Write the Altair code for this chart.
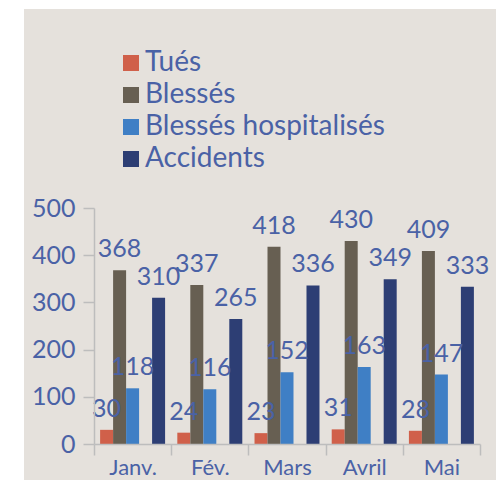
import altair as alt
import pandas as pd

months = ["Janv.", "Fév.", "Mars", "Avril", "Mai"]
series = ["Tués", "Blessés", "Blessés hospitalisés", "Accidents"]
tues = [30, 24, 23, 31, 28]
blesses = [368, 337, 418, 430, 409]
hosp = [118, 116, 152, 163, 147]
accidents = [310, 265, 336, 349, 333]
colors = ["#d0604a", "#675f52", "#3f7fc5", "#2d3e74"]

rows = []
for i, m in enumerate(months):
    for s, vals in zip(series, [tues, blesses, hosp, accidents]):
        rows.append({"mois": m, "serie": s, "valeur": vals[i]})
df = pd.DataFrame(rows)

BLUE = "#4a62a6"
FONT = "Lato"

offset_domain = ["Tués", "Blessés", "Blessés hospitalisés", "_vide", "Accidents"]

x = alt.X("mois:N", sort=months, title=None,
          scale=alt.Scale(paddingInner=0, paddingOuter=0),
          axis=alt.Axis(labelAngle=0, tickBand="extent", tickSize=11,
                        labelPadding=2, labelFontSize=22, labelColor=BLUE,
                        labelFont=FONT, domainColor="#bdbdbd", tickColor="#bdbdbd",
                        domainWidth=1.5, tickWidth=1.5, zindex=1))
y = alt.Y("valeur:Q", title=None,
          scale=alt.Scale(domain=[0, 500], nice=False),
          axis=alt.Axis(values=[0, 100, 200, 300, 400, 500], grid=False, tickSize=11,
                        labelPadding=8, labelFontSize=25, labelColor=BLUE,
                        labelFont=FONT, domainColor="#bdbdbd", tickColor="#bdbdbd",
                        domainWidth=1.5, tickWidth=1.5, zindex=1))
xo = alt.XOffset("serie:N", sort=offset_domain,
                 scale=alt.Scale(domain=offset_domain, paddingInner=0, paddingOuter=0.47))

bg = alt.Chart(df).mark_rect(color="#e5e1dc").encode(
    x=alt.value(-70), x2=alt.value(420), y=alt.value(-199), y2=alt.value(300)
)

bars = alt.Chart(df).mark_bar().encode(
    x=x, y=y, xOffset=xo,
    color=alt.Color("serie:N", sort=series,
                    scale=alt.Scale(domain=series, range=colors),
                    legend=alt.Legend(title=None, orient="none", legendX=23, legendY=-159,
                                      symbolType="square", symbolSize=256,
                                      symbolStrokeWidth=0, labelFontSize=28,
                                      labelColor=BLUE, labelFont=FONT, labelOffset=0,
                                      labelLimit=500, rowPadding=4, padding=0)),
)

labels = alt.Chart(df).mark_text(fontSize=25, font=FONT, color=BLUE,
                                  baseline="alphabetic", dy=-13).encode(
    x=x, y=y, xOffset=xo, text="valeur:Q"
)

chart = alt.layer(bg, bars, labels).properties(
    width=386, height=236,
    autosize=alt.AutoSizeParams(type="none"),
    padding={"left": 86, "top": 200, "right": 16, "bottom": 36},
    background="white",
).configure_view(stroke=None)

chart.save("out.html", embed_options={"renderer": "svg", "actions": False})
